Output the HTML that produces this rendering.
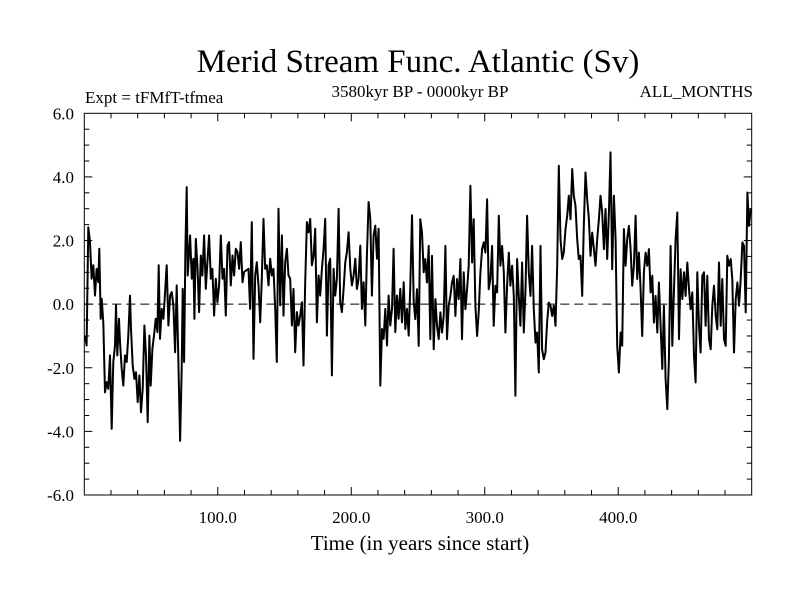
<!DOCTYPE html>
<html><head><meta charset="utf-8"><style>
html,body{margin:0;padding:0;background:#fff;}
svg{display:block;font-family:"Liberation Serif",serif;}
</style></head><body>
<svg id="chart" width="800" height="600" viewBox="0 0 800 600">
<text x="418" y="72" font-size="33" text-anchor="middle">Merid Stream Func. Atlantic (Sv)</text>
<text x="85" y="103" font-size="17">Expt = tFMfT-tfmea</text>
<text x="420" y="97" font-size="17" text-anchor="middle">3580kyr BP - 0000kyr BP</text>
<text x="753" y="97" font-size="17" text-anchor="end">ALL_MONTHS</text>
<text x="420" y="550" font-size="21" text-anchor="middle">Time (in years since start)</text>
<g id="axes"></g>
<g id="series"></g>
</svg>
<script>
const xTickValues=[100,200,300,400];
const xTickLabels=["100.0","200.0","300.0","400.0"];
const yTickValues=[-6,-4,-2,0,2,4,6];
const yTickLabels=["-6.0","-4.0","-2.0","0.0","2.0","4.0","6.0"];
const yearsA=[0.5,1.75,3,4.25,5.5,6.75,8,9.25,10.5,11.25,12.25,13,14.25,15.5,16.75,18,19.25,20.5,21.75,23,
23.75,24.75,26,26.75,28,29.25,30.5,31.75,33,34.25,35,36.25,37.5,38.75,40,41.25,42.5,43.75,45,46.25,
47.5,48.75,49.75,51,52.25,53.5,54.75,55.75,56.75,58,59.25,60.5,61.75,63,64.25,65.5,66.75,68,69.25,70.5,
71.75,73,73.75,74.75,75.75,76.75,77.5,78.5,79.25,80.5,81.75,82.5,83.5,84.75,86,87.25,88.5,89.75,91,92.25,
93.5,94.75,96,97.25,98.5,99.75,101,102.25,103.5,104.75,106,107.25,108.5,109.75,111,112.25,113.5,114.75,
116,117.25,118.5,119.75];
const valuesA=[-0.99,-1.30,2.42,1.95,0.80,1.22,0.27,1.11,0.69,1.74,-0.46,0.17,-0.57,-2.77,-2.45,-2.66,-1.61,-3.92,-1.82,-1.30,
-0.04,-1.61,-0.46,-1.19,-2.03,-2.56,-1.61,-1.82,-0.99,0.27,-0.78,-1.93,-2.35,-2.14,-3.08,-2.24,-3.40,-2.66,-0.67,-1.61,
-3.71,-0.99,-2.56,-1.40,-0.99,-0.46,-0.88,1.22,-1.09,-0.15,-0.46,0.38,1.22,-0.67,0.27,0.38,-0.04,-1.51,0.59,-1.82,
-4.30,-2.03,0.48,-1.82,1.74,3.68,0.90,1.64,2.16,0.80,1.43,-0.46,2.05,1.22,-0.25,1.53,0.90,2.16,0.48,1.32,
2.16,0.80,1.11,-0.36,0.80,0.06,0.59,2.16,0.80,1.11,-0.36,1.84,1.95,0.59,1.53,0.90,1.74,1.64,
1.11,1.95,0.69,1.01];
const startYearB=123.0;
const yearStepB=1.25;
const valuesB=[
1.11,-0.15,2.58,-1.72,0.90,1.32,0.59,-0.57,0.80,2.68,1.11,1.22,0.59,1.43,0.90,1.11,-0.15,-1.82,3.00,-0.04,
2.16,-0.36,1.32,1.74,0.90,0.80,-0.67,0.48,-1.51,-0.25,-0.67,-0.36,0.06,-1.93,0.69,2.58,2.26,2.68,1.22,1.53,
2.37,-0.57,0.90,0.27,1.11,1.74,2.68,-0.99,1.22,1.43,-2.24,1.11,0.27,0.80,3.00,0.06,-0.25,0.48,1.32,1.64,
2.26,1.11,0.59,0.90,1.43,0.48,0.80,1.84,-0.15,0.69,-0.67,1.53,3.21,2.68,0.27,2.16,2.47,1.43,2.37,-2.56,
-0.78,-1.09,-0.15,-1.30,0.27,-0.67,-0.15,1.74,-0.88,0.27,-0.46,0.48,-0.57,0.69,-0.78,-0.15,-0.99,0.59,2.79,0.06,
-0.47,0.47,-1.31,2.67,2.25,1.00,1.42,0.68,1.83,-1.10,1.52,-1.42,0.16,-0.68,-1.10,-0.26,-0.89,-0.37,1.83,-1.10,
-0.05,0.26,0.68,0.89,-0.37,0.79,0.16,1.42,-1.10,1.00,-0.16,0.47,1.21,3.72,1.31,2.67,-0.05,-1.00,-0.26,1.00,
1.73,1.94,1.62,3.30,0.47,0.79,1.83,-0.68,0.58,0.37,2.78,1.21,1.83,1.00,-0.89,0.58,1.62,0.58,1.21,0.26,
-2.88,1.42,0.26,-0.68,1.31,-0.89,0.47,2.78,1.00,0.26,1.83,-0.16,-1.21,-0.89,-2.15,1.83,-1.42,-1.73,-1.52,-0.58,
0.05,-0.05,-0.37,-0.05,-0.68,1.21,4.35,2.04,1.42,1.62,2.36,2.78,3.41,2.67,4.25,3.41,3.09,2.04,1.42,
1.52,0.26,2.46,4.14,3.30,2.67,1.52,2.25,1.73,1.21,2.04,2.67,3.41,2.88,1.73,2.99,1.42,2.88,4.77,1.10,
3.41,2.04,-1.31,-2.15,-0.89,-1.31,2.36,1.21,2.04,2.46,1.73,0.58,1.21,2.78,0.79,1.62,0.47,-1.00,1.00,1.62,
1.21,1.73,0.37,0.89,-0.58,0.26,-0.89,0.68,-0.68,-2.04,-0.05,-2.36,-3.30,-1.73,1.83,-1.31,0.37,2.04,2.88,-1.10,
1.10,0.16,1.00,0.26,1.31,0.47,-0.16,0.37,-1.62,-2.46,1.00,-0.68,-1.52,0.89,1.00,-0.68,0.89,-1.10,-1.42,-0.05,
0.58,-0.37,-0.79,1.31,-0.68,0.79,-1.10,-1.31,1.52,1.21,1.42,0.79,-1.52,0.16,0.68,-0.05,0.79,1.94,1.83,-0.26,
3.51,2.46,2.99
];
const X0=84.3,X1=751.7,Y0=113.3,Y1=495;
const xMin=0,xMax=500,yMin=-6,yMax=6;
function xs(v){return X0+(v-xMin)/(xMax-xMin)*(X1-X0);}
function ys(v){return Y1-(v-yMin)/(yMax-yMin)*(Y1-Y0);}
const NS="http://www.w3.org/2000/svg";
const axes=document.getElementById('axes');
function mk(tag,attrs,parent){const e=document.createElementNS(NS,tag);for(const k in attrs)e.setAttribute(k,attrs[k]);parent.appendChild(e);return e;}
const frame=mk('rect',{x:X0,y:Y0,width:X1-X0,height:Y1-Y0,fill:'none',stroke:'#000','stroke-width':1},axes);


const zl=mk('line',{x1:X0,x2:X1,y1:ys(0),y2:ys(0),stroke:'#000','stroke-width':1,'stroke-dasharray':'9,5'},axes);


for(let t=20;t<500;t+=20){
  const L=(t%100===0)?8:5;
  const a=mk('line',{x1:xs(t),x2:xs(t),y1:Y1,y2:Y1-L,stroke:'#000'},axes);
  
  
  const b=mk('line',{x1:xs(t),x2:xs(t),y1:Y0,y2:Y0+L,stroke:'#000'},axes);
  
  
}
for(let v=-5.5;v<6;v+=0.5){
  const L=(Math.abs(v%2)<1e-9)?8:5;
  const a=mk('line',{x1:X0,x2:X0+L,y1:ys(v),y2:ys(v),stroke:'#000'},axes);
  
  
  const b=mk('line',{x1:X1,x2:X1-L,y1:ys(v),y2:ys(v),stroke:'#000'},axes);
  
  
}
xTickValues.forEach((v,i)=>{
  const t=mk('text',{x:xs(v),y:523,'font-size':17,'text-anchor':'middle'},axes);
  t.textContent=xTickLabels[i];
  
  
});
yTickValues.forEach((v,i)=>{
  const t=mk('text',{x:74,y:ys(v)+6,'font-size':17,'text-anchor':'end'},axes);
  t.textContent=yTickLabels[i];
  
  
});
let d='';
valuesA.forEach((v,i)=>{d+=(i?'L':'M')+xs(yearsA[i]).toFixed(1)+','+ys(v).toFixed(1);});
valuesB.forEach((v,i)=>{d+='L'+xs(startYearB+i*yearStepB).toFixed(1)+','+ys(v).toFixed(1);});
const line=mk('path',{d:d,fill:'none',stroke:'#000','stroke-width':2,'stroke-linejoin':'round'},document.getElementById('series'));


</script>
</body></html>
